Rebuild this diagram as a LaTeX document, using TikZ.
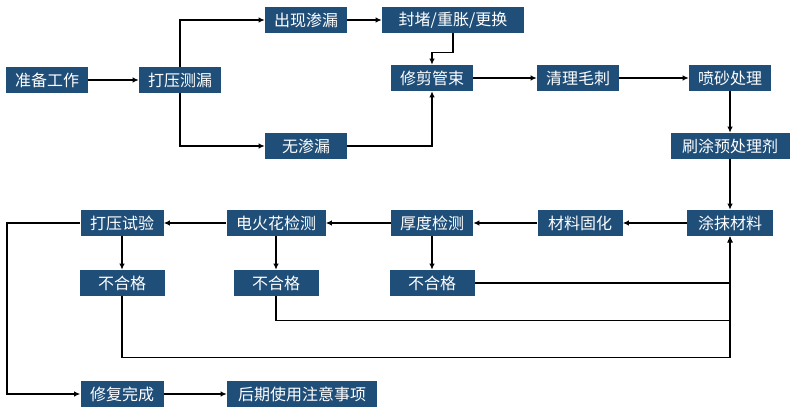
\documentclass[tikz,border=0pt]{standalone}
\usepackage{fontspec}
\newfontfamily\cjk{Noto Sans CJK SC}
\usetikzlibrary{arrows.meta}
\definecolor{boxblue}{RGB}{31,78,121}
\begin{document}
\begin{tikzpicture}[x=0.75pt,y=-0.75pt,
  box/.style={draw=none,fill=boxblue,text=white,inner sep=0pt,minimum height=19.5pt,minimum width=61.5pt,font=\cjk\fontsize{12}{14}\selectfont},
  conn/.style={line width=0.8pt,draw=black},
  arr/.style={conn,-{Latex[length=4.5pt,width=4pt]}}]
\useasboundingbox (0,0) rectangle (792,413);
\node[box] (prep) at (47,80) {准备工作};
\node[box] (test) at (180,80) {打压测漏};
\node[box] (leak) at (306,20) {出现渗漏};
\node[box] (noleak) at (306,146) {无渗漏};
\node[box,minimum width=106.5pt] (seal) at (453,20) {封堵/重胀/更换};
\node[box] (trim) at (432,78) {修剪管束};
\node[box] (deburr) at (578,78) {清理毛刺};
\node[box] (blast) at (730,78) {喷砂处理};
\node[box,minimum width=89.25pt] (prime) at (730,146) {刷涂预处理剂};
\node[box,minimum width=64.5pt] (coat) at (730,223) {涂抹材料};
\node[box,minimum width=63.75pt] (cure) at (580,223) {材料固化};
\node[box] (thick) at (432,223) {厚度检测};
\node[box,minimum width=74.25pt] (spark) at (276,223) {电火花检测};
\node[box,minimum width=62.25pt] (press) at (122,223) {打压试验};
\node[box,minimum width=63.75pt] (ngA) at (122,283) {不合格};
\node[box,minimum width=63.75pt] (ngB) at (276,283) {不合格};
\node[box,minimum width=63.75pt] (ngC) at (432,283) {不合格};
\node[box,minimum width=62.25pt] (done) at (122,394) {修复完成};
\node[box,minimum width=112.5pt] (later) at (302,394) {后期使用注意事项};
\coordinate (left) at (7,223);
\draw[arr] (prep) -- (test);
\draw[arr] (test.north) |- (leak.west);
\draw[arr] (test.south) |- (noleak.west);
\draw[arr] (leak) -- (seal);
\draw[arr] (seal.south) -- ++(0,19) -| (trim.north);
\draw[arr] (noleak.east) -| (trim.south);
\draw[arr] (trim) -- (deburr);
\draw[arr] (deburr) -- (blast);
\draw[arr] (blast) -- (prime);
\draw[arr] (prime) -- (coat);
\draw[arr] (coat) -- (cure);
\draw[arr] (cure) -- (thick);
\draw[arr] (thick) -- (spark);
\draw[arr] (spark) -- (press);
\draw[arr] (press) -- (ngA);
\draw[arr] (spark) -- (ngB);
\draw[arr] (thick) -- (ngC);
\draw[arr] (ngC.east) -| (coat.south);
\draw[arr] (ngB.south) -- ++(0,24) -| (coat.south);
\draw[arr] (ngA.south) -- ++(0,61) -| (coat.south);
\draw[arr] (press.west) -- (left) |- (done.west);
\draw[arr] (done) -- (later);
\end{tikzpicture}
\end{document}
